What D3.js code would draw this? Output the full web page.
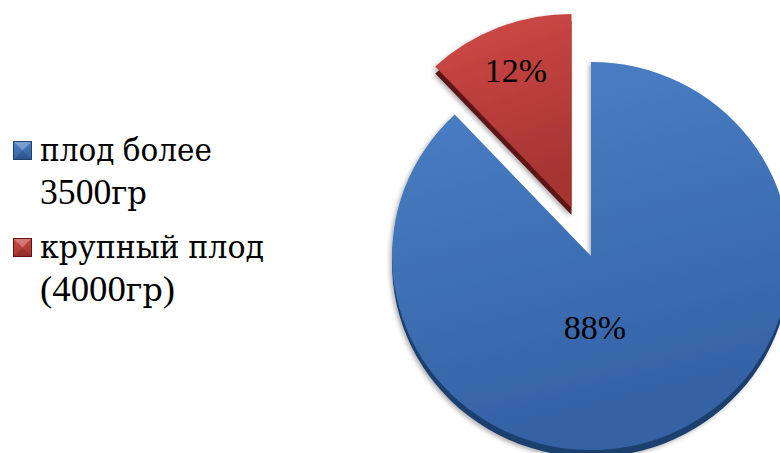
<!DOCTYPE html>
<html>
<head>
<meta charset="utf-8">
<script src="https://cdn.jsdelivr.net/npm/d3@7"></script>
<style>
  html, body { margin: 0; padding: 0; background: #ffffff; }
  svg { display: block; }
</style>
</head>
<body>
<svg id="chart" width="780" height="453"></svg>
<script>
// Birth weight shares
const categories = ["плод более 3500гр", "крупный плод (4000гр)"];
const legendLines = [["плод более", "3500гр"], ["крупный плод", "(4000гр)"]];
const values = [88, 12];
const valueLabels = ["88%", "12%"];
const seriesColors = [
  { top: "#4b81c7", bottom: "#3462a5", side: "#1f3f6e" },
  { top: "#d14a47", bottom: "#a63432", side: "#5c1414" }
];
const explodedIndex = 1;

// Latin/digit runs use Liberation Serif; Cyrillic runs use DejaVu Serif, sized to a matching x-height
const LATIN_FONT = "'Liberation Serif', 'Times New Roman', serif";
const CYR_FONT = "'DejaVu Serif', serif";

const svg = d3.select("#chart");
const defs = svg.append("defs");

seriesColors.forEach((c, i) => {
  const g = defs.append("linearGradient")
    .attr("id", "grad" + i).attr("x1", 0).attr("y1", 0).attr("x2", 0.25).attr("y2", 1);
  g.append("stop").attr("offset", "0%").attr("stop-color", c.top);
  g.append("stop").attr("offset", "100%").attr("stop-color", c.bottom);
});

const shadow = defs.append("filter").attr("id", "shadow")
  .attr("x", "-20%").attr("y", "-20%").attr("width", "140%").attr("height", "140%");
shadow.append("feDropShadow").attr("dx", -2).attr("dy", 2)
  .attr("stdDeviation", 2).attr("flood-color", "#000").attr("flood-opacity", 0.3);

// Pie geometry (slightly tilted disc)
const cx = 591, cy = 256, r = 199, tilt = 0.975, depth = 7, explode = 53;

const pie = d3.pie().sort(null).value(d => d);
const arcs = pie(values);
const arc = d3.arc().innerRadius(0).outerRadius(r);

const pieG = svg.append("g").attr("transform", `translate(${cx},${cy})`);

arcs.forEach((a, i) => {
  const mid = (a.startAngle + a.endAngle) / 2;
  const off = i === explodedIndex ? explode : 0;
  const dx = Math.sin(mid) * off;
  const dy = -Math.cos(mid) * off * tilt;
  const g = pieG.append("g").attr("transform", `translate(${dx},${dy})`)
    .attr("filter", "url(#shadow)");
  // extruded side
  g.append("path")
    .attr("d", arc(a))
    .attr("transform", `translate(0,${depth}) scale(1,${tilt})`)
    .attr("fill", seriesColors[i].side);
  // top face
  g.append("path")
    .attr("d", arc(a))
    .attr("transform", `scale(1,${tilt})`)
    .attr("fill", `url(#grad${i})`);
});

// value labels
arcs.forEach((a, i) => {
  const mid = (a.startAngle + a.endAngle) / 2;
  let x, y;
  if (i === explodedIndex) {
    const k = explode + 0.76 * r;
    x = Math.sin(mid) * k;
    y = -Math.cos(mid) * k * tilt;
  } else {
    x = 4;
    y = 0.366 * r * tilt;
  }
  pieG.append("text")
    .attr("x", x).attr("y", y)
    .attr("text-anchor", "middle").attr("dominant-baseline", "central")
    .attr("font-family", LATIN_FONT).attr("font-size", 34).attr("fill", "#000")
    .text(valueLabels[i]);
});

// split a string into Cyrillic and non-Cyrillic runs
function runs(s) {
  const out = [];
  for (const ch of s) {
    const cyr = /[\u0400-\u04FF]/.test(ch);
    if (out.length && out[out.length - 1].cyr === cyr) out[out.length - 1].t += ch;
    else out.push({ t: ch, cyr });
  }
  return out;
}

// legend
const lineWidths = [[172, 107], [224, 135]];
const legend = svg.append("g").attr("transform", "translate(13,141)");
categories.forEach((c, i) => {
  const item = legend.append("g").attr("transform", `translate(0,${i * 97})`);
  item.append("rect").attr("x", 0.5).attr("y", 0.5).attr("width", 18).attr("height", 18)
    .attr("fill", `url(#grad${i})`)
    .attr("stroke", seriesColors[i].side).attr("stroke-width", 1);
  item.append("path")
    .attr("d", "M1,1 L18,1 L9.5,9.5 Z")
    .attr("fill", "#ffffff").attr("opacity", 0.28);
  item.append("path")
    .attr("d", "M1,18 L18,18 L9.5,9.5 Z")
    .attr("fill", "#000000").attr("opacity", 0.12);
  legendLines[i].forEach((line, j) => {
    const t = item.append("text")
      .attr("x", 27).attr("y", 20 + j * 43)
      .attr("fill", "#000")
      .attr("textLength", lineWidths[i][j])
      .attr("lengthAdjust", "spacingAndGlyphs");
    runs(line).forEach(rn => {
      t.append("tspan")
        .attr("font-family", rn.cyr ? CYR_FONT : LATIN_FONT)
        .attr("font-size", rn.cyr ? 31 : 36)
        .text(rn.t);
    });
  });
});
</script>
</body>
</html>
